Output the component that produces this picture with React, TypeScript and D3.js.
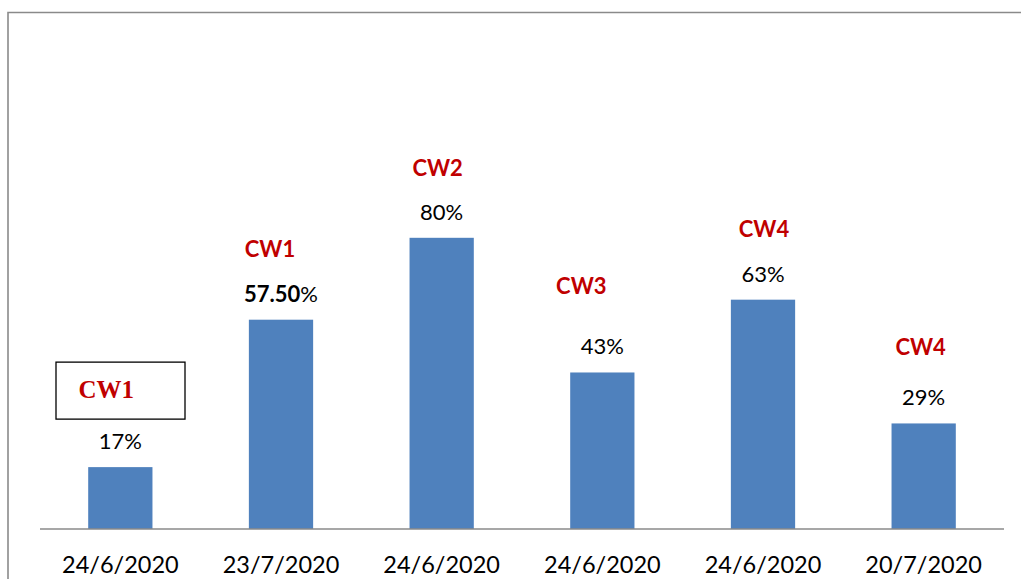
import * as d3 from 'd3';

const VW = 1021, VH = 579;
const M = { top: 165, right: 17, bottom: 50, left: 40 };
const BASE = VH - M.bottom; // axis baseline

const DATES = ['24/6/2020', '23/7/2020', '24/6/2020', '24/6/2020', '24/6/2020', '20/7/2020'];
const VALUES = [17, 57.5, 80, 43, 63, 29];
const VALUE_TEXT = ['17%', '57.50', '80%', '43%', '63%', '29%'];
const CW_TEXT = ['CW1', 'CW1', 'CW2', 'CW3', 'CW4', 'CW4'];

// hand-placed text boxes: [dx from bar centre, rise above bar top]
const CW_NUDGE: [number, number][] = [[-14, 69], [-11, 63], [-4, 62], [-21, 78], [1, 63], [-3, 68]];

const FONT = 'Lato, "Open Sans", sans-serif';
const RED = '#C00000';
const BLUE = '#4F81BD';
const GREY = '#8a8a8a';

export default function App() {
  const x = d3.scaleBand<number>().domain(d3.range(DATES.length)).range([M.left, VW - M.right])
    .paddingInner(0.6).paddingOuter(0.3);
  const y = d3.scaleLinear().domain([0, 100]).range([BASE, M.top]);
  const bw = x.bandwidth();

  return (
    <div style={{ position: 'fixed', left: 0, top: 0, width: VW, height: VH, background: '#fff' }}>
      <svg width={VW} height={VH} viewBox={`0 0 ${VW} ${VH}`} style={{ display: 'block' }}>
        {/* outer frame, runs off the right and bottom edges */}
        <path d={`M8,${VH + 5}V12.5H${VW + 5}`} fill="none" stroke={GREY} strokeWidth={1.6} />

        {VALUES.map((v, i) => (
          <rect key={'b' + i} x={x(i)} y={y(v)} width={bw} height={BASE - y(v)} fill={BLUE} />
        ))}

        <line x1={M.left} x2={VW - M.right} y1={BASE} y2={BASE} stroke={GREY} strokeWidth={1.5} />

        {DATES.map((d, i) => (
          <text key={'d' + i} x={x(i)! + bw / 2} y={BASE + 44} textAnchor="middle"
            fontFamily={FONT} fontSize={23.5} fill="#000">{d}</text>
        ))}

        {VALUES.map((v, i) => (
          <text key={'v' + i} x={x(i)! + bw / 2} y={y(v) - 18} textAnchor="middle"
            fontFamily={FONT} fontSize={22} fill="#000">
            {i === 1 ? (<><tspan fontWeight={700}>{VALUE_TEXT[i]}</tspan>%</>) : VALUE_TEXT[i]}
          </text>
        ))}

        {CW_TEXT.map((t, i) => {
          const cx = x(i)! + bw / 2 + CW_NUDGE[i][0];
          const by = y(VALUES[i]) - CW_NUDGE[i][1];
          if (i === 0) {
            return (
              <g key={'c' + i}>
                <rect x={56} y={by - 36} width={129} height={57} fill="#fff" stroke="#000" strokeWidth={1.3} />
                <text x={cx} y={by} textAnchor="middle" fontFamily='"Liberation Serif", "Times New Roman", serif'
                  fontWeight={700} fontSize={25} fill={RED}>{t}</text>
              </g>
            );
          }
          return (
            <text key={'c' + i} x={cx} y={by} textAnchor="middle" fontFamily={FONT}
              fontWeight={700} fontSize={22} fill={RED}>{t}</text>
          );
        })}
      </svg>
    </div>
  );
}
